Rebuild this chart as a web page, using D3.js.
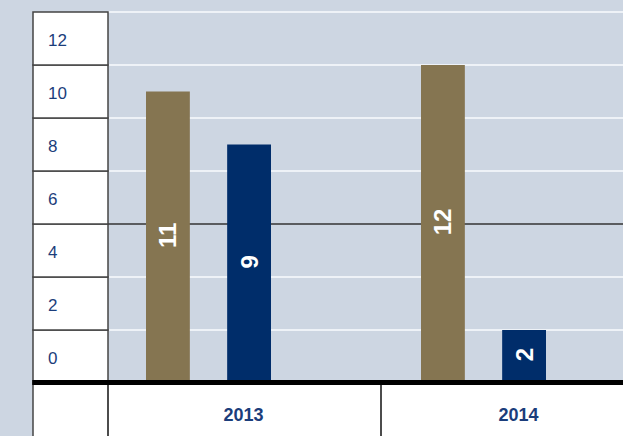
<!DOCTYPE html>
<html>
<head>
<meta charset="utf-8">
<script src="https://cdn.jsdelivr.net/npm/d3@7"></script>
<style>
  body { margin: 0; background: #cdd6e2; }
  svg { display: block; font-family: "Liberation Sans", Arial, Helvetica, sans-serif; }
</style>
</head>
<body>
<script>
// données
const years = ["2013", "2014"];
const seriesNames = ["brun", "bleu"];
const brunValues = [11, 12];
const bleuValues = [9, 2];
const axisLabels = [0, 2, 4, 6, 8, 10, 12];
const gridValues = [2, 4, 6, 8, 10, 12, 14];
const refLine = 6;

const width = 623;
const height = 436;
const colors = { brun: "#857551", bleu: "#002d6a" };
const textBlue = "#1b3d7b";

const svg = d3.select("body").append("svg")
    .attr("width", width)
    .attr("height", height);

const colLeft = 33, colRight = 108;
const baseY = 382.5;

const y = d3.scaleLinear().domain([0, 14]).range([383, 12]);
const x = d3.scaleBand().domain(years).range([106, 656]);
const xInner = d3.scaleBand().domain(seriesNames).range([40, 165]).paddingInner(0.46);

// fond
svg.append("rect").attr("width", width).attr("height", height).attr("fill", "#cdd6e2");

// lignes de la grille (zone du graphique)
svg.append("g").selectAll("line")
    .data(gridValues)
    .join("line")
    .attr("x1", colRight).attr("x2", width)
    .attr("y1", d => y(d)).attr("y2", d => y(d))
    .attr("stroke", d => d === refLine ? "#333" : "#eef2f7")
    .attr("stroke-width", d => d === refLine ? 1.3 : 2);

// barres
const rows = years.map((yr, i) => ({ year: yr, brun: brunValues[i], bleu: bleuValues[i] }));
const groups = svg.append("g").selectAll("g")
    .data(rows)
    .join("g")
    .attr("transform", d => `translate(${x(d.year)},0)`);

groups.selectAll("rect")
    .data(d => seriesNames.map(s => ({ key: s, value: d[s] })))
    .join("rect")
    .attr("x", d => xInner(d.key))
    .attr("width", xInner.bandwidth())
    .attr("y", d => y(d.value))
    .attr("height", d => y(0) - y(d.value))
    .attr("fill", d => colors[d.key]);

groups.selectAll("text")
    .data(d => seriesNames.map(s => ({ key: s, value: d[s] })))
    .join("text")
    .attr("transform", d => {
        const cx = xInner(d.key) + xInner.bandwidth() / 2;
        const cy = (y(d.value) + y(0)) / 2 - 2;
        return `translate(${cx},${cy}) rotate(-90)`;
    })
    .attr("text-anchor", "middle")
    .attr("dominant-baseline", "central")
    .attr("fill", "#fff")
    .attr("font-weight", "bold")
    .attr("font-size", 24)
    .text(d => d.value);

// colonne de gauche (étiquettes de l'axe)
const col = svg.append("g");
col.selectAll("rect")
    .data(axisLabels)
    .join("rect")
    .attr("x", colLeft).attr("width", colRight - colLeft)
    .attr("y", d => y(d + 2))
    .attr("height", d => y(d) - y(d + 2))
    .attr("fill", "#fff")
    .attr("stroke", "#444")
    .attr("stroke-width", 1.5);

col.selectAll("text")
    .data(axisLabels)
    .join("text")
    .attr("x", 48)
    .attr("y", d => y(d + 1) + 1.5)
    .attr("dominant-baseline", "central")
    .attr("fill", textBlue)
    .attr("font-size", 17)
    .text(d => d);

// tableau des catégories
const tab = svg.append("g");
tab.append("rect")
    .attr("x", colLeft).attr("y", baseY)
    .attr("width", width - colLeft).attr("height", height - baseY)
    .attr("fill", "#fff");

const dividers = [colLeft, colRight, x(years[1])];
tab.selectAll("line")
    .data(dividers)
    .join("line")
    .attr("x1", d => d).attr("x2", d => d)
    .attr("y1", baseY).attr("y2", height)
    .attr("stroke", d => d === colLeft ? "#444" : "#111")
    .attr("stroke-width", 1.5);

tab.selectAll("text")
    .data(years)
    .join("text")
    .attr("x", d => x(d) + x.bandwidth() / 2)
    .attr("y", 421)
    .attr("text-anchor", "middle")
    .attr("fill", textBlue)
    .attr("font-weight", "bold")
    .attr("font-size", 18)
    .text(d => d);

// ligne de base
svg.append("line")
    .attr("x1", colLeft - 0.75).attr("x2", width)
    .attr("y1", baseY).attr("y2", baseY)
    .attr("stroke", "#000")
    .attr("stroke-width", 5);
</script>
</body>
</html>
